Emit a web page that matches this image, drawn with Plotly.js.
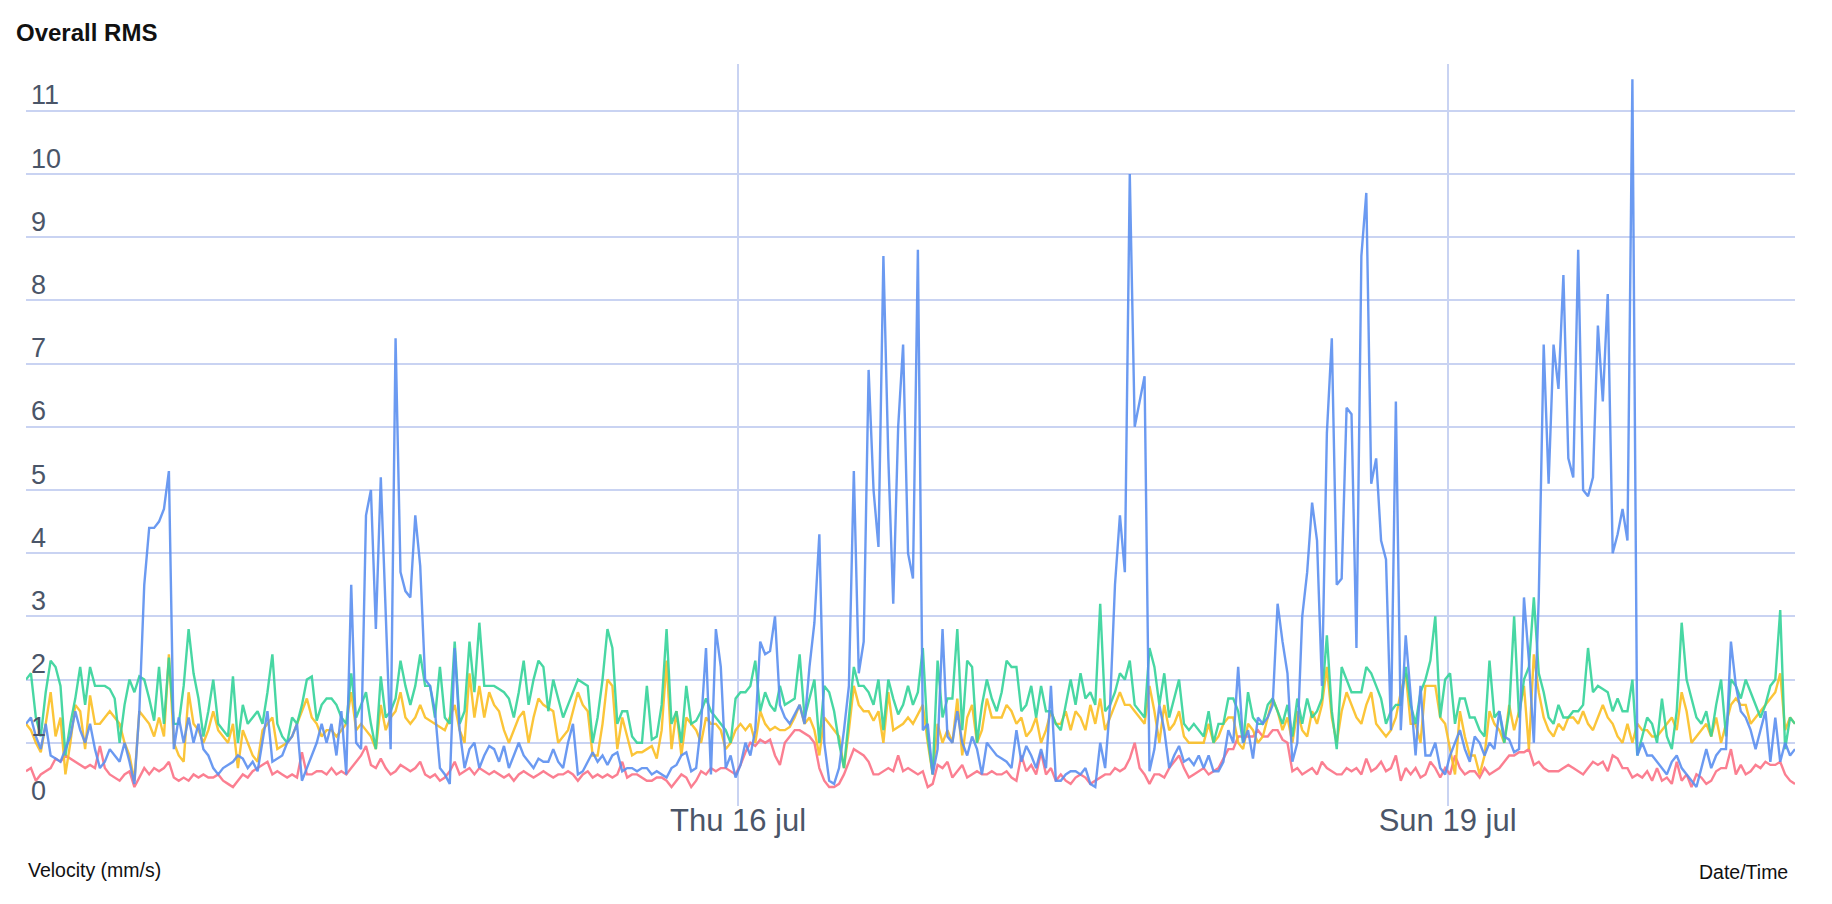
<!DOCTYPE html>
<html>
<head>
<meta charset="utf-8">
<script src="https://cdn.plot.ly/plotly-3.0.1.min.js"></script>
<style>
html,body{margin:0;padding:0;background:#fff;}
#chart{width:1832px;height:904px;}
</style>
</head>
<body>
<div id="chart"></div>
<script>
// ---- data ----
const startTime = "2020-07-12T23:45:00";
const stepMinutes = 30;
const tickDates = ["2020-07-16T00:00:00", "2020-07-19T00:00:00"];
const tickLabels = ["Thu 16 jul", "Sun 19 jul"];
const yTicks = [0,1,2,3,4,5,6,7,8,9,10,11];

const blueValues = [
1.3,1.4,1.1,0.9,1.3,0.8,0.75,0.7,0.9,1.1,1.5,1.2,1.0,1.3,0.9,0.6,0.7,0.9,0.8,0.7,
1.0,0.7,0.35,1.5,3.5,4.4,4.4,4.5,4.7,5.3,0.9,1.4,1.0,1.4,1.0,1.3,0.9,0.8,0.6,0.5,
0.6,0.65,0.7,0.8,0.75,0.6,0.7,0.55,1.0,1.5,0.7,0.75,0.8,1.0,1.1,1.3,0.4,0.6,0.8,1.0,
1.3,1.0,1.3,0.8,1.5,0.5,3.5,1.0,0.9,4.6,5.0,2.8,5.2,3.0,0.9,7.4,3.7,3.4,3.3,4.6,
3.8,2.0,1.9,1.5,0.6,0.5,0.35,2.5,1.2,0.6,0.9,
1.0,0.6,0.8,0.95,0.9,0.7,0.95,0.6,0.8,1.0,0.8,0.7,0.6,0.75,0.7,0.7,0.9,0.7,0.6,1.0,
1.3,0.5,0.55,0.7,0.85,0.7,0.8,0.65,0.8,0.85,0.55,0.6,0.6,0.55,0.6,0.6,0.5,0.55,0.5,0.45,
0.6,0.65,0.8,0.85,0.55,0.6,1.3,2.5,0.5,2.8,2.2,0.6,0.8,0.45,0.65,1.0,0.8,1.2,2.6,2.4,
2.45,3.0,1.6,1.4,1.3,1.45,1.6,1.3,2.2,2.9,4.3,1.0,0.4,0.35,0.6,1.2,1.9,5.3,2.1,2.6,
6.9,5.0,4.1,8.7,5.5,3.2,6.0,7.3,4.0,3.6,8.8,
1.2,1.3,0.5,0.9,2.8,1.1,1.0,1.5,1.0,0.8,1.1,0.9,0.5,1.0,0.9,0.8,0.75,0.7,0.6,1.2,
0.7,0.95,0.8,0.6,0.9,0.6,1.9,0.4,0.4,0.5,0.55,0.55,0.5,0.6,0.35,0.3,1.0,0.6,1.6,3.5,
4.6,3.7,10.0,6.0,6.4,6.8,0.55,0.9,1.6,1.2,0.6,0.8,0.95,0.7,0.75,0.65,0.8,0.6,0.8,0.55,
0.55,0.7,1.2,1.0,2.2,1.0,1.2,0.75,1.4,1.3,1.4,1.6,3.2,2.6,2.1,0.7,1.0,3.0,3.7,4.8,
4.2,1.9,5.9,7.4,3.5,3.6,6.3,6.2,2.5,
8.7,9.7,5.1,5.5,4.2,3.9,1.2,6.4,1.2,2.7,1.8,0.8,1.9,0.8,0.8,1.0,0.6,0.5,0.8,1.0,
1.2,0.9,0.7,1.1,1.0,0.8,1.0,0.9,1.5,1.1,1.05,0.85,0.9,3.3,2.3,1.0,3.3,7.3,5.1,7.3,
6.6,8.4,5.5,5.2,8.8,5.0,4.9,5.2,7.6,6.4,8.1,4.0,4.3,4.7,4.2,11.5,0.8,1.0,0.8,0.8,
0.7,0.6,0.5,0.7,0.8,0.6,0.5,0.4,0.3,0.6,0.9,0.6,0.8,0.9,0.9,2.6,1.9,1.5,1.4,1.2,
0.9,1.2,1.5,0.7,1.4,0.7,1.0,0.8,0.9
];

const greenValues = [
2.0,2.1,1.4,1.1,1.8,2.3,2.2,1.9,0.8,1.3,1.7,2.2,1.6,2.2,1.9,1.9,1.9,1.85,1.7,1.0,
1.6,2.0,1.8,2.05,2.0,1.7,1.35,2.2,1.3,2.35,1.3,1.3,1.9,2.8,2.1,1.7,1.1,1.5,2.0,1.3,
1.2,1.1,2.05,1.0,1.6,1.3,1.4,1.5,1.3,1.8,2.4,1.3,1.1,1.0,1.4,1.3,1.6,2.0,2.05,1.35,
1.6,1.7,1.7,1.6,1.4,1.3,2.1,1.4,1.6,1.8,1.3,0.9,2.05,1.4,1.5,1.7,2.3,1.9,1.6,1.9,
2.4,1.9,1.9,1.4,2.2,1.4,1.3,2.6,1.3,1.5,2.6,
1.8,2.9,1.9,1.9,1.9,1.85,1.8,1.7,1.4,1.8,2.3,1.6,2.0,2.3,2.2,1.5,2.0,1.7,1.4,1.6,
1.8,2.0,1.95,1.9,1.0,1.4,2.0,2.8,2.5,1.3,1.5,1.5,1.1,1.0,1.0,1.9,1.05,1.1,1.6,2.8,
1.3,1.5,1.0,1.9,1.3,1.35,1.5,1.7,1.5,1.4,1.3,1.2,1.0,1.7,1.8,1.8,1.9,2.3,1.5,1.8,
1.6,1.5,1.9,1.6,1.65,1.7,2.4,1.4,1.7,2.0,1.0,1.9,1.8,1.5,1.0,0.6,1.4,2.2,1.9,1.9,
1.8,1.6,2.0,1.2,2.0,1.7,1.45,1.6,1.9,1.6,1.8,
2.5,1.1,0.5,2.3,1.4,1.7,1.7,2.8,1.2,2.3,2.2,1.0,1.6,2.0,1.7,1.5,1.8,2.3,2.2,2.2,
1.5,1.6,1.9,1.4,1.9,1.5,1.5,1.3,1.2,1.6,2.0,1.6,2.1,1.7,1.8,1.6,3.2,1.5,1.6,1.8,
2.1,2.0,2.3,1.6,1.5,1.4,2.5,2.2,1.6,2.1,1.4,1.7,2.0,1.3,1.2,1.3,1.2,1.1,1.5,1.0,
1.3,1.3,1.7,1.7,1.5,1.0,1.8,1.4,1.3,1.3,1.6,1.7,1.5,1.3,1.6,1.1,1.7,1.3,1.7,1.4,
1.5,1.7,2.7,1.5,0.9,2.2,2.0,1.8,1.8,
1.8,2.2,2.1,1.9,1.7,1.3,1.5,1.6,1.6,2.2,1.6,1.3,1.8,2.0,2.3,3.0,1.4,2.0,2.1,1.3,
1.7,1.7,1.4,1.4,1.2,1.1,2.3,1.4,1.5,1.0,1.5,3.0,1.4,2.0,2.2,3.3,2.1,1.8,1.4,1.3,
1.6,1.4,1.4,1.5,1.5,1.6,2.5,1.8,1.9,1.85,1.8,1.5,1.7,1.5,1.5,2.0,0.8,1.1,1.4,1.3,
1.0,1.7,1.1,0.9,1.5,2.9,2.0,1.7,1.4,1.3,1.5,1.1,1.6,2.0,1.1,2.0,1.9,1.7,2.0,1.8,
1.6,1.4,1.6,1.9,2.0,3.1,0.9,1.4,1.3
];

const yellowValues = [
1.3,1.2,1.0,0.85,1.3,1.8,1.1,1.4,0.5,1.0,1.6,1.5,0.9,1.75,1.3,1.3,1.4,1.5,1.4,1.3,
1.0,0.8,0.4,1.5,1.4,1.3,1.1,1.4,1.1,2.4,1.0,0.8,0.7,1.8,1.3,1.2,1.0,1.2,1.5,1.2,
1.1,1.0,1.3,0.6,1.2,1.0,0.8,0.7,1.2,1.3,1.4,0.9,0.95,1.0,1.1,1.3,1.5,1.7,1.4,1.3,
1.1,1.2,1.2,1.1,1.2,1.3,1.8,1.2,1.3,1.2,1.1,0.9,1.6,1.2,1.4,1.5,1.8,1.4,1.3,1.4,
1.6,1.4,1.35,1.3,1.25,1.2,1.4,1.6,1.2,1.0,2.1,
1.4,1.9,1.4,1.8,1.6,1.5,1.2,1.0,1.2,1.4,1.5,1.0,1.4,1.7,1.6,1.55,1.5,1.0,1.1,1.2,
1.5,1.8,1.6,1.5,0.8,0.8,1.3,2.0,1.9,0.9,1.4,1.1,0.8,0.85,0.85,0.9,0.95,0.75,1.2,2.3,
0.9,1.5,0.8,1.4,1.3,1.2,1.0,1.4,1.3,1.3,1.2,0.9,1.0,1.2,1.3,1.2,1.3,1.0,1.5,1.3,
1.2,1.25,1.2,1.2,1.25,1.4,1.6,1.3,1.4,1.2,0.8,1.4,1.3,1.2,1.1,0.6,1.2,1.9,1.6,1.5,
1.5,1.35,1.5,1.0,1.8,1.2,1.25,1.3,1.4,1.3,1.45,
1.6,1.0,0.5,1.3,1.0,1.2,1.0,1.7,0.8,1.4,1.6,1.0,1.2,1.7,1.4,1.4,1.4,1.6,1.5,1.3,
1.4,1.1,1.2,1.4,1.0,1.2,1.5,1.3,1.3,1.5,1.2,1.5,1.4,1.2,1.6,1.3,1.7,1.2,1.4,1.6,
1.8,1.6,1.6,1.5,1.4,1.3,1.9,1.5,1.0,1.6,1.2,1.3,1.5,1.1,1.0,1.0,1.0,1.0,1.3,1.0,
1.1,1.3,1.4,1.4,1.0,0.9,1.3,1.2,1.0,1.1,1.4,1.7,1.5,1.2,1.4,1.0,1.5,1.2,1.1,1.5,
1.3,1.6,2.2,1.4,1.0,1.5,1.8,1.6,1.4,
1.3,1.6,1.8,1.3,1.2,1.1,1.2,1.4,1.8,2.1,1.3,1.3,1.0,1.9,1.9,1.9,1.4,1.3,0.9,0.5,
1.5,1.1,0.8,0.8,0.5,0.8,1.5,1.3,1.2,1.0,1.6,1.2,1.5,1.9,0.9,2.4,1.8,1.4,1.2,1.1,
1.3,1.2,1.4,1.4,1.3,1.5,1.3,1.2,1.4,1.6,1.4,1.3,1.1,1.0,1.3,1.0,1.3,1.2,1.2,1.1,
1.1,1.2,1.3,1.4,1.2,1.8,1.5,1.0,1.1,1.2,1.3,1.1,1.4,1.0,1.3,1.6,1.7,1.6,1.6,1.3,
1.4,1.5,1.6,1.7,1.8,2.1,1.2,1.4,1.3
];

const redValues = [
0.55,0.6,0.4,0.5,0.55,0.6,0.75,0.7,0.8,0.75,0.7,0.65,0.6,0.65,0.6,0.95,0.6,0.5,0.45,0.4,
0.5,0.55,0.3,0.45,0.6,0.5,0.6,0.55,0.6,0.7,0.45,0.4,0.45,0.4,0.5,0.45,0.5,0.45,0.45,0.5,
0.4,0.35,0.3,0.4,0.5,0.45,0.55,0.6,0.65,0.7,0.5,0.55,0.5,0.45,0.5,0.45,0.85,0.5,0.5,0.55,
0.55,0.5,0.6,0.5,0.55,0.5,0.6,0.7,0.8,0.95,0.65,0.6,0.75,0.6,0.5,0.55,0.65,0.6,0.55,0.6,
0.7,0.5,0.45,0.5,0.4,0.45,0.55,0.7,0.5,0.55,0.6,
0.5,0.6,0.55,0.5,0.55,0.5,0.45,0.5,0.4,0.5,0.55,0.5,0.45,0.5,0.55,0.5,0.45,0.5,0.5,0.55,
0.5,0.4,0.5,0.55,0.45,0.5,0.45,0.5,0.45,0.5,0.7,0.45,0.5,0.5,0.45,0.4,0.4,0.45,0.45,0.4,
0.3,0.4,0.5,0.45,0.3,0.4,0.55,0.5,0.6,0.55,0.6,0.6,0.55,0.5,0.65,0.85,1.0,0.95,1.05,1.0,
1.05,0.8,0.65,1.0,1.1,1.2,1.2,1.15,1.1,1.0,0.6,0.4,0.3,0.3,0.35,0.5,0.7,0.9,0.85,0.8,
0.7,0.5,0.5,0.55,0.6,0.55,0.8,0.55,0.6,0.55,0.5,
0.55,0.3,0.35,0.65,0.6,0.7,0.45,0.55,0.65,0.45,0.5,0.55,0.5,0.5,0.55,0.5,0.5,0.55,0.45,0.4,
0.8,0.55,0.65,0.5,0.85,0.5,0.6,0.4,0.5,0.4,0.35,0.45,0.5,0.45,0.35,0.4,0.45,0.5,0.5,0.6,
0.55,0.6,0.75,1.0,0.6,0.5,0.35,0.5,0.5,0.45,0.6,0.7,0.8,0.6,0.45,0.5,0.55,0.6,0.5,0.55,
0.6,0.75,0.9,0.9,1.1,1.1,1.1,1.1,1.2,1.1,1.1,1.2,1.2,1.05,1.0,0.55,0.6,0.5,0.55,0.6,
0.5,0.7,0.6,0.55,0.5,0.5,0.6,0.55,0.6,
0.5,0.75,0.55,0.6,0.7,0.55,0.6,0.8,0.4,0.6,0.5,0.6,0.45,0.5,0.7,0.6,0.45,0.6,0.5,0.8,
0.6,0.5,0.55,0.55,0.45,0.6,0.5,0.55,0.6,0.7,0.8,0.8,0.85,0.85,0.9,0.65,0.7,0.6,0.55,0.55,
0.55,0.6,0.65,0.6,0.55,0.5,0.6,0.7,0.65,0.7,0.55,0.8,0.75,0.6,0.6,0.45,0.5,0.45,0.55,0.4,
0.6,0.4,0.45,0.35,0.7,0.4,0.5,0.3,0.5,0.45,0.35,0.4,0.55,0.6,0.6,0.9,0.5,0.65,0.5,0.55,
0.65,0.6,0.7,0.65,0.65,0.7,0.5,0.4,0.35
];

const seriesNames = ["Series 1", "Series 2", "Series 3", "Series 4"];
const seriesColors = ["#fb7185", "#fbbf24", "#34d399", "#5b8ff0"];

// ---- build timestamps ----
const t0 = new Date(startTime + "Z").getTime();
function pad(n){return (n<10?"0":"")+n;}
function fmt(ms){
  const d = new Date(ms);
  return d.getUTCFullYear()+"-"+pad(d.getUTCMonth()+1)+"-"+pad(d.getUTCDate())+" "+pad(d.getUTCHours())+":"+pad(d.getUTCMinutes());
}
const times = blueValues.map((_, i) => fmt(t0 + i*stepMinutes*60000));

const allSeries = [redValues, yellowValues, greenValues, blueValues];
const traces = allSeries.map((vals, k) => ({
  type: "scatter",
  mode: "lines",
  x: times,
  y: vals,
  name: seriesNames[k],
  line: {color: seriesColors[k], width: 2.4},
  opacity: 0.9,
  hoverinfo: "x+y"
}));

const gridColor = "#c9d3f2";
const fontFam = "Liberation Sans, Arial, sans-serif";
const layout = {
  width: 1832,
  height: 904,
  paper_bgcolor: "#ffffff",
  plot_bgcolor: "#ffffff",
  showlegend: false,
  margin: {l: 26, r: 37, t: 64, b: 98, pad: 0},
  title: {
    text: "<b>Overall RMS</b>",
    x: 16/1832, xref: "container", xanchor: "left",
    y: 1 - 33/904, yref: "container", yanchor: "middle",
    font: {family: fontFam, size: 24, color: "#111111"}
  },
  xaxis: {
    type: "date",
    range: [times[0], times[times.length-1]],
    tickmode: "array",
    tickvals: tickDates,
    ticktext: tickLabels,
    showgrid: true,
    gridcolor: gridColor,
    gridwidth: 2,
    zeroline: false,
    showline: false,
    ticks: "",
    ticklabelstandoff: -7,
    tickfont: {family: fontFam, size: 31, color: "#4a5568"}
  },
  yaxis: {
    range: [0, 11.74],
    tickmode: "array",
    tickvals: yTicks,
    ticktext: yTicks.map(String),
    showgrid: true,
    gridcolor: gridColor,
    gridwidth: 2,
    zeroline: false,
    showline: false,
    ticks: "",
    ticklabelposition: "inside top",
    ticklabelshift: 3,
    ticklabelstandoff: 2,
    tickfont: {family: fontFam, size: 27, color: "#4a5568"}
  },
  annotations: [
    {text: "Velocity (mm/s)", xref: "paper", yref: "paper", x: 0, xanchor: "left",
     y: -(870-806)/742, yanchor: "middle", showarrow: false,
     font: {family: fontFam, size: 19.5, color: "#111111"}},
    {text: "Date/Time", xref: "paper", yref: "paper", x: 1, xanchor: "right", xshift: -5,
     y: -(872-806)/742, yanchor: "middle", showarrow: false,
     font: {family: fontFam, size: 19.5, color: "#111111"}}
  ]
};

Plotly.newPlot("chart", traces, layout, {displayModeBar: false, staticPlot: true});
</script>
</body>
</html>
